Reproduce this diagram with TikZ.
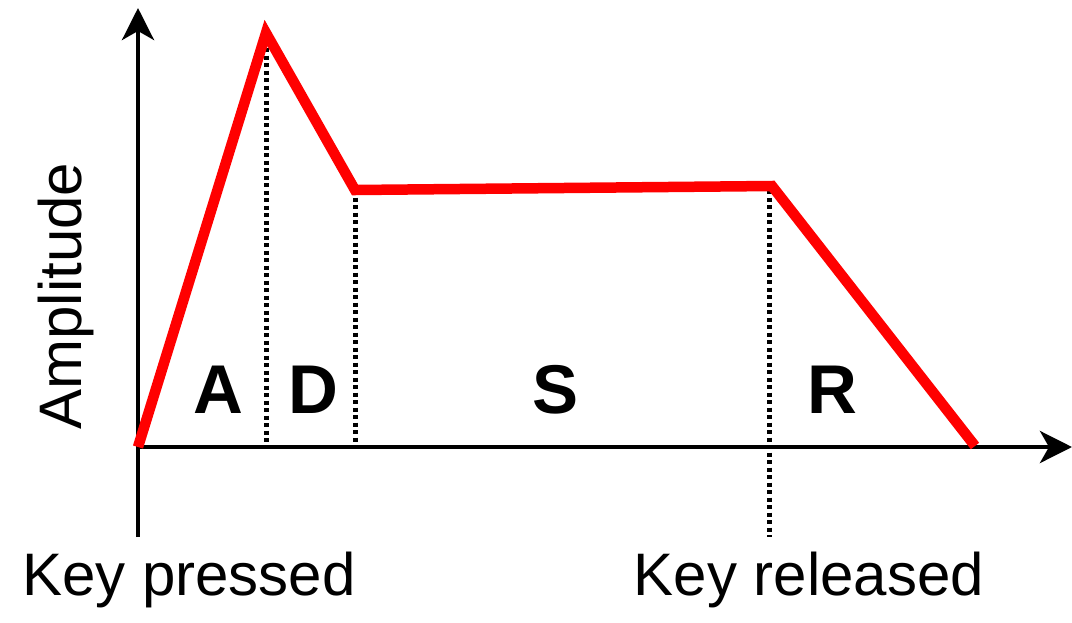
\documentclass[tikz,border=0pt]{standalone}
\usepackage{fontspec}
\setmainfont{Liberation Sans}
\usetikzlibrary{arrows.meta}
\begin{document}
\begin{tikzpicture}[x=1pt,y=-1pt,
  axis/.style={line width=4.5pt,-{Stealth[length=32pt,width=32pt,inset=9pt]}},
  env/.style={draw=red,line width=10.5pt,line join=miter,line cap=butt},
  guide/.style={line width=5pt,dash pattern=on 4pt off 3.5pt},
  seg/.style={font=\bfseries\fontsize{69}{71}\selectfont},
  lbl/.style={font=\fontsize{60}{62}\selectfont}]
\useasboundingbox (0,0) rectangle (1072,622);
\coordinate (o) at (138,447);
\coordinate (ybot) at (138,537);
\coordinate (ytop) at (138,8);
\coordinate (xend) at (1072,447);
\coordinate (p0) at (138,447);
\coordinate (p1) at (266,33);
\coordinate (p2) at (355,190);
\coordinate (p3) at (772,186);
\coordinate (p4) at (975,446);
\coordinate (g1) at (266,447);
\coordinate (g2) at (355,447);
\coordinate (g3t) at (769,190);
\coordinate (g3) at (769,537);
\draw[guide] (p1) -- (g1);
\draw[guide] (p2) -- (g2);
\draw[guide] (g3t) -- (g3);
\draw[axis] (ybot) -- (ytop);
\draw[axis] (o) -- (xend);
\draw[env] (p0) -- (p1) -- (p2) -- (p3) -- (p4);
\node[seg] (a) at (218,390) {A};
\node[seg] (d) at (313,390) {D};
\node[seg] (s) at (556,390) {S};
\node[seg] (r) at (832,390) {R};
\node[lbl,rotate=90] (amp) at (66,296) {Amplitude};
\node[lbl] (kp) at (189,580) {Key pressed};
\node[lbl] (kr) at (809,580) {Key released};
\end{tikzpicture}
\end{document}
